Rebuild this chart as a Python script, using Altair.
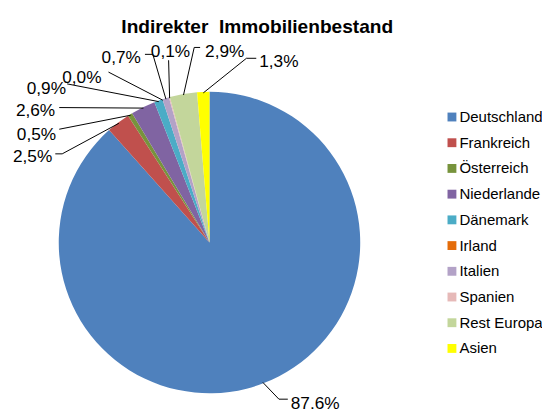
import altair as alt
import pandas as pd
import numpy as np

# ---- data ----
categories = ["Deutschland", "Frankreich", "Österreich", "Niederlande", "Dänemark",
              "Irland", "Italien", "Spanien", "Rest Europa", "Asien"]
values = [87.6, 2.5, 0.5, 2.6, 0.9, 0.0, 0.7, 0.1, 2.9, 1.3]
labels = ["87.6%", "2,5%", "0,5%", "2,6%", "0,9%", "0,0%", "0,7%", "0,1%", "2,9%", "1,3%"]
colors = ["#4F81BD", "#C0504D", "#77933C", "#8064A2", "#4BACC6",
          "#E46C0A", "#B3A2C7", "#E6B9B8", "#C3D69B", "#FFFF00"]
title_text = "Indirekter\u00a0\u00a0Immobilienbestand"

# ---- layout (page pixels) ----
M = 8
CX, CY, R = 212.5, 243, 153
label_x = [295, 13, 17, 16, 27, 63, 103, 153, 208, 263]
label_y = [407, 156.5, 134, 110, 87, 76, 56, 50, 50, 60]
lead_x = [292, 56, 60, 60, 68, 110, 147, 171, 203, 260]
lead_y = [402, 153, 128, 106, 82, 70, 52, 58, 45, 56]
elbow_x = [283, 63, 60, 60, 68, 110, 155, 171, 197, 250]
elbow_y = [402, 153, 128, 106, 82, 70, 52, 58, 45, 56]

pie_df = pd.DataFrame({"category": categories, "value": values,
                       "order": list(range(len(categories)))})

# leader line ends on the slice edge, derived from the values
v = np.array(values, dtype=float)
mid = (np.cumsum(v) - v / 2) / v.sum() * 2 * np.pi
sx = CX + (R - 1) * np.sin(mid)
sy = CY - (R - 1) * np.cos(mid)

seg_rows = []
for i in range(len(categories)):
    seg_rows.append({"x": lead_x[i] - M, "y": lead_y[i] - M, "x2": elbow_x[i] - M, "y2": elbow_y[i] - M})
    seg_rows.append({"x": elbow_x[i] - M, "y": elbow_y[i] - M, "x2": sx[i] - M, "y2": sy[i] - M})
seg_df = pd.DataFrame(seg_rows)

lab_df = pd.DataFrame({"x": [x - M for x in label_x], "y": [y - M for y in label_y], "text": labels})

arc = alt.Chart(pie_df).mark_arc(outerRadius=R).encode(
    theta=alt.Theta("value:Q", stack=True),
    color=alt.Color("category:N", sort=categories,
                    scale=alt.Scale(domain=categories, range=colors),
                    legend=alt.Legend(title=None, orient="none", legendX=443, legendY=100,
                                      symbolType="square", symbolSize=81, symbolStrokeWidth=0,
                                      labelFont="Liberation Sans", labelFontSize=15.2,
                                      labelColor="black", rowPadding=10.1, labelOffset=0,
                                      padding=0, labelLimit=200)),
    order=alt.Order("order:Q"),
    x=alt.value(CX - M),
    y=alt.value(CY - M),
)

rules = alt.Chart(seg_df).mark_rule(color="black", strokeWidth=1).encode(
    x=alt.X("x:Q", scale=None, axis=None),
    y=alt.Y("y:Q", scale=None, axis=None),
    x2="x2:Q",
    y2="y2:Q",
)

texts = alt.Chart(lab_df).mark_text(align="left", baseline="middle", font="Liberation Sans",
                                     fontSize=17.5, color="black").encode(
    x=alt.X("x:Q", scale=None, axis=None),
    y=alt.Y("y:Q", scale=None, axis=None),
    text="text:N",
)

title = alt.Chart(pd.DataFrame({"t": [title_text]})).mark_text(
    align="center", baseline="middle", font="Liberation Sans", fontSize=19.4,
    fontWeight="bold", color="black").encode(
    x=alt.value(261 - M), y=alt.value(24 - M), text="t:N")

chart = alt.layer(arc, rules, texts, title).properties(
    width=542, height=406, padding=0,
    autosize=alt.AutoSizeParams(type="none"),
).configure_view(stroke=None)

chart.save("out.html", embed_options={"renderer": "svg", "actions": False})
